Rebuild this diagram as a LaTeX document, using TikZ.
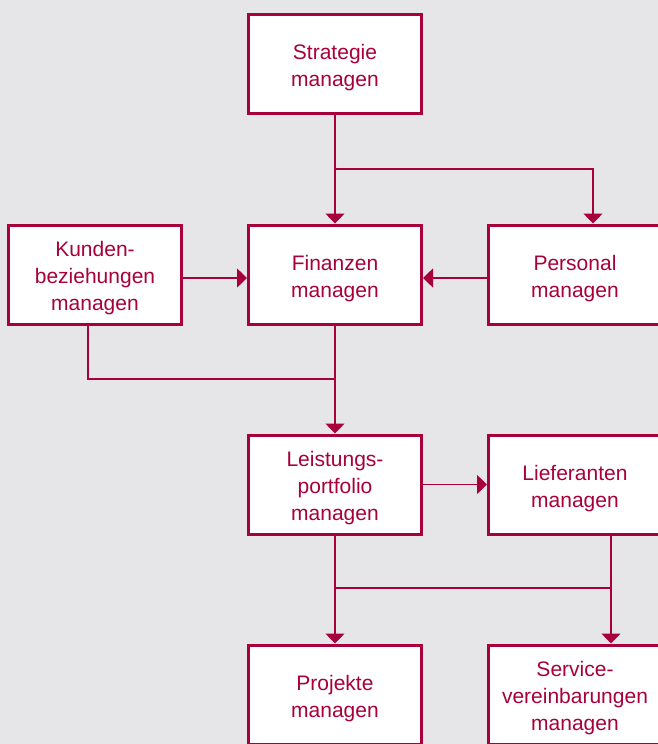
\documentclass[tikz,border=0pt]{standalone}
\usepackage{fontspec}
\setmainfont{Liberation Sans}
\usetikzlibrary{arrows.meta}
\definecolor{crim}{HTML}{A8003B}
\definecolor{bg}{HTML}{E6E6E8}
\begin{document}
\begin{tikzpicture}[x=1pt,y=-1pt,
  box/.style={draw=crim,line width=3pt,fill=white,minimum width=173pt,minimum height=99pt,inner sep=0pt},
  txt/.style={text=crim,align=center,inner sep=0pt,font=\fontsize{21}{27}\selectfont},
  conn/.style={draw=crim,line width=1.5pt},
  arr/.style={conn,-{Triangle[width=19pt,length=10pt]}}]
\fill[bg] (0,0) rectangle (658,744);
\useasboundingbox (0,0) rectangle (658,744);
\begin{scope}
\clip (0,0) rectangle (658,744);
\node[box] (strategie) at (335,64) {};
\node[box] (kunden) at (95,274.5) {};
\node[box] (finanzen) at (335,274.5) {};
\node[box] (personal) at (575,274.5) {};
\node[box] (leistung) at (335,484.5) {};
\node[box] (lieferanten) at (575,484.5) {};
\node[box] (projekte) at (335,694.5) {};
\node[box] (service) at (575,694.5) {};
\end{scope}
\node[txt] (t1) at ([yshift=-4pt]strategie.center) {Strategie\\managen};
\node[txt] (t2) at ([yshift=-4pt]kunden.center) {Kunden-\\beziehungen\\managen};
\node[txt] (t3) at ([yshift=-4pt]finanzen.center) {Finanzen\\managen};
\node[txt] (t4) at ([yshift=-4pt]personal.center) {Personal\\managen};
\node[txt] (t5) at ([yshift=-4pt]leistung.center) {Leistungs-\\portfolio\\managen};
\node[txt] (t6) at ([yshift=-4pt]lieferanten.center) {Lieferanten\\managen};
\node[txt] (t7) at ([yshift=-4pt]projekte.center) {Projekte\\managen};
\node[txt] (t8) at ([yshift=-4pt]service.center) {Service-\\vereinbarungen\\managen};
\coordinate (b1) at (335,169);
\coordinate (b2) at (335,379);
\coordinate (b3) at (335,588);
\draw[arr] (strategie.south) -- (finanzen.north);
\draw[arr] (b1) -| ([xshift=18pt]personal.north);
\draw[arr] ([yshift=-3.5pt]kunden.east) -- ([yshift=-3.5pt]finanzen.west);
\draw[arr] ([yshift=-3.5pt]personal.west) -- ([yshift=-3.5pt]finanzen.east);
\draw[conn] ([xshift=-7pt]kunden.south) |- (b2);
\draw[arr] (finanzen.south) -- (leistung.north);
\draw[arr] (leistung.east) -- (lieferanten.west);
\draw[arr] (leistung.south) -- (projekte.north);
\draw[arr] ([xshift=36pt]lieferanten.south) -- ([xshift=36pt]service.north);
\draw[conn] (b3) -- ++(276,0);
\end{tikzpicture}
\end{document}
